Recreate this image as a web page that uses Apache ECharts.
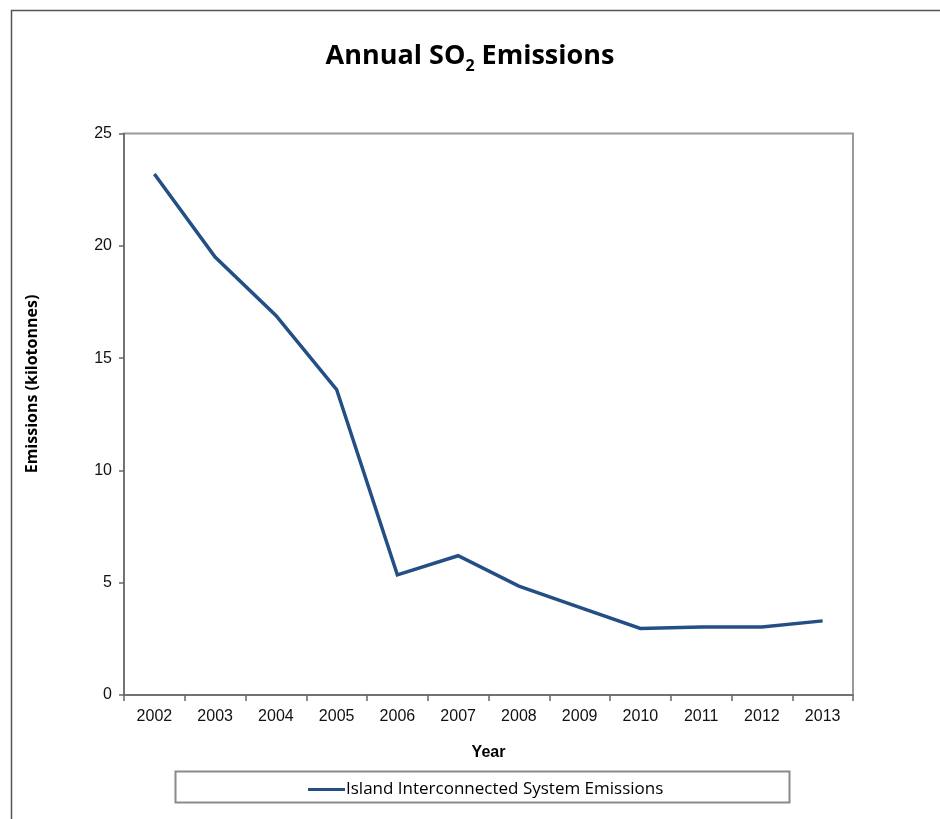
<!DOCTYPE html>
<html>
<head>
<meta charset="utf-8">
<title>Annual SO2 Emissions</title>
<script src="https://cdn.jsdelivr.net/npm/echarts@6/dist/echarts.min.js"></script>
<style>
  html, body { margin: 0; padding: 0; background: #ffffff; }
  #chart { width: 940px; height: 819px; }
</style>
</head>
<body>
<div id="chart"></div>
<script>
// Years on the category axis
const years = ['2002', '2003', '2004', '2005', '2006', '2007', '2008', '2009', '2010', '2011', '2012', '2013'];
// Annual SO2 emissions, kilotonnes
const emissions = [23.2, 19.5, 16.9, 13.6, 5.35, 6.2, 4.85, 3.9, 2.96, 3.03, 3.03, 3.3];
const seriesName = 'Island Interconnected System Emissions';
const yTicks = { min: 0, max: 25, interval: 5 };

const calibri = '"Open Sans", "Noto Sans", sans-serif';
const arial = '"Liberation Sans", Arial, sans-serif';
const lineColor = '#234f86';

const chart = echarts.init(document.getElementById('chart'), null, { renderer: 'canvas' });

chart.setOption({
  backgroundColor: '#ffffff',
  animation: false,
  title: {
    text: '{t|Annual SO}{s|2}{t| Emissions}',
    left: 'center',
    top: 27,
    textStyle: {
      rich: {
        t: { fontFamily: calibri, fontWeight: 'bold', fontSize: 27, color: '#000', verticalAlign: 'bottom', lineHeight: 38 },
        s: { fontFamily: calibri, fontWeight: 'bold', fontSize: 16, color: '#000', verticalAlign: 'bottom', lineHeight: 30, padding: [0, 0, -4, 0] }
      }
    }
  },
  grid: {
    left: 124,
    right: 87,
    top: 133.5,
    bottom: 124,
    show: true,
    borderColor: '#9a9a9a',
    borderWidth: 2,
    backgroundColor: '#ffffff'
  },
  legend: {
    data: [{ name: seriesName, icon: 'rect' }],
    left: 303,
    top: 776,
    itemWidth: 37,
    itemHeight: 3,
    itemGap: 0,
    textStyle: { fontFamily: calibri, fontSize: 17, color: '#000', padding: [0, 0, 0, -4] }
  },
  graphic: [
    {
      type: 'rect',
      shape: { x: 11.5, y: 10.5, width: 1000, height: 900 },
      style: { fill: null, stroke: '#555', lineWidth: 1.5 },
      silent: true,
      z: -10
    },
    {
      type: 'rect',
      shape: { x: 175.5, y: 771.5, width: 614, height: 31 },
      style: { fill: null, stroke: '#8a8a8a', lineWidth: 2 },
      silent: true
    },
    {
      type: 'text',
      x: 32,
      y: 384,
      rotation: Math.PI / 2,
      style: {
        text: 'Emissions (kilotonnes)',
        fontFamily: calibri,
        fontWeight: 'bold',
        fontSize: 16,
        fill: '#000',
        align: 'center',
        verticalAlign: 'middle'
      },
      silent: true
    }
  ],
  xAxis: {
    type: 'category',
    data: years,
    boundaryGap: true,
    name: 'Year',
    nameLocation: 'middle',
    nameGap: 50,
    nameTextStyle: { fontFamily: arial, fontWeight: 'bold', fontSize: 16, color: '#000' },
    axisLine: { show: true, lineStyle: { color: '#666', width: 1.5 } },
    axisTick: { show: true, alignWithLabel: false, length: 6, lineStyle: { color: '#666', width: 1.5 } },
    axisLabel: { fontFamily: arial, fontSize: 16, color: '#111', margin: 14, interval: 0 },
    splitLine: { show: false }
  },
  yAxis: {
    type: 'value',
    min: yTicks.min,
    max: yTicks.max,
    interval: yTicks.interval,
    axisLine: { show: true, lineStyle: { color: '#666', width: 1.5 } },
    axisTick: { show: true, length: 5, lineStyle: { color: '#666', width: 1.5 } },
    axisLabel: { fontFamily: arial, fontSize: 16, color: '#111', margin: 12 },
    splitLine: { show: false }
  },
  series: [
    {
      name: seriesName,
      type: 'line',
      data: emissions,
      symbol: 'none',
      lineStyle: { color: lineColor, width: 3.5, join: 'miter' },
      itemStyle: { color: lineColor }
    }
  ]
});
</script>
</body>
</html>
